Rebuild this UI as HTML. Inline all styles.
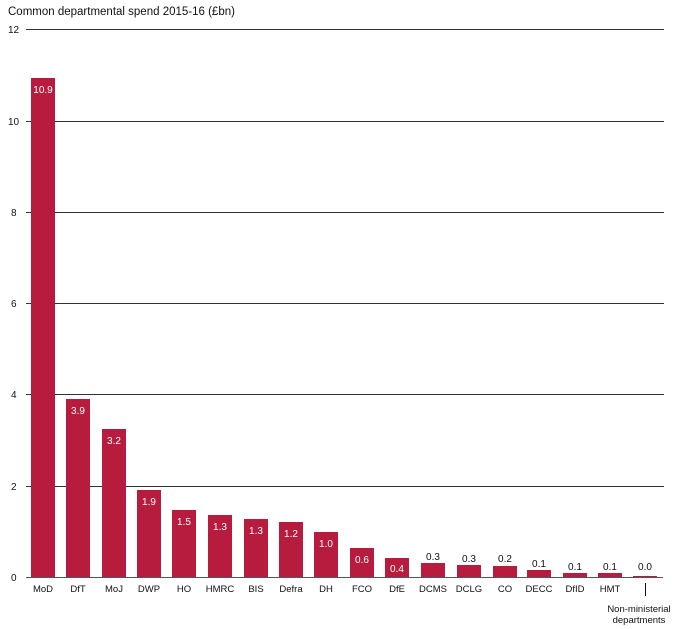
<!DOCTYPE html>
<html><head><meta charset="utf-8"><style>
body{margin:0;background:#fff;}
svg{display:block;font-family:"Liberation Sans",Arial,sans-serif;}
</style></head><body>
<svg width="676" height="629" viewBox="0 0 676 629">
<text x="8" y="15" font-size="11.5" fill="#111">Common departmental spend 2015-16 (£bn)</text>
<g stroke="#333" stroke-width="1">
<line x1="26" y1="29.5" x2="664" y2="29.5"/>
<line x1="26" y1="121.5" x2="664" y2="121.5"/>
<line x1="26" y1="212.5" x2="664" y2="212.5"/>
<line x1="26" y1="303.5" x2="664" y2="303.5"/>
<line x1="26" y1="394.5" x2="664" y2="394.5"/>
<line x1="26" y1="486.5" x2="664" y2="486.5"/>
</g>
<g font-size="10" fill="#111">
<text x="8" y="33">12</text><text x="8" y="125">10</text><text x="11" y="216">8</text>
<text x="11" y="307">6</text><text x="11" y="398">4</text><text x="11" y="490">2</text><text x="11" y="581">0</text>
</g>
<g fill="#b71c3f">
<rect x="31" y="78" width="24" height="499"/>
<rect x="66" y="399" width="24" height="178"/>
<rect x="102" y="429" width="24" height="148"/>
<rect x="137" y="490" width="24" height="87"/>
<rect x="172" y="510" width="24" height="67"/>
<rect x="208" y="515" width="24" height="62"/>
<rect x="244" y="519" width="24" height="58"/>
<rect x="279" y="522" width="24" height="55"/>
<rect x="314" y="532" width="24" height="45"/>
<rect x="350" y="548" width="24" height="29"/>
<rect x="385" y="558" width="24" height="19"/>
<rect x="421" y="563" width="24" height="14"/>
<rect x="457" y="565" width="24" height="12"/>
<rect x="493" y="566" width="24" height="11"/>
<rect x="527" y="570" width="24" height="7"/>
<rect x="563" y="573" width="24" height="4"/>
<rect x="598" y="573" width="24" height="4"/>
<rect x="633" y="576" width="24" height="1"/>
</g>
<line x1="26" y1="577.5" x2="663" y2="577.5" stroke="#555" stroke-width="1"/>
<g font-size="10" fill="#fff" text-anchor="middle">
<text x="43" y="93">10.9</text><text x="78" y="414">3.9</text><text x="114" y="444">3.2</text>
<text x="149" y="505">1.9</text><text x="184" y="525">1.5</text><text x="220" y="530">1.3</text>
<text x="256" y="534">1.3</text><text x="291" y="537">1.2</text><text x="326" y="547">1.0</text>
<text x="362" y="563">0.6</text><text x="397" y="572">0.4</text>
</g>
<g font-size="10" fill="#111" text-anchor="middle">
<text x="433" y="560">0.3</text><text x="469" y="562">0.3</text><text x="505" y="562">0.2</text>
<text x="539" y="567">0.1</text><text x="575" y="570">0.1</text><text x="610" y="570">0.1</text>
<text x="645" y="570">0.0</text>
</g>
<g font-size="9.5" fill="#111" text-anchor="middle">
<text x="43" y="592">MoD</text><text x="78" y="592">DfT</text><text x="114" y="592">MoJ</text>
<text x="149" y="592">DWP</text><text x="184" y="592">HO</text><text x="220" y="592">HMRC</text>
<text x="256" y="592">BIS</text><text x="291" y="592">Defra</text><text x="326" y="592">DH</text>
<text x="362" y="592">FCO</text><text x="397" y="592">DfE</text><text x="433" y="592">DCMS</text>
<text x="469" y="592">DCLG</text><text x="505" y="592">CO</text><text x="539" y="592">DECC</text>
<text x="575" y="592">DfID</text><text x="610" y="592">HMT</text>
<text x="639" y="612">Non-ministerial</text><text x="639" y="623">departments</text>
</g>
<line x1="645.5" y1="583" x2="645.5" y2="596" stroke="#111" stroke-width="1"/>
</svg>
</body></html>
